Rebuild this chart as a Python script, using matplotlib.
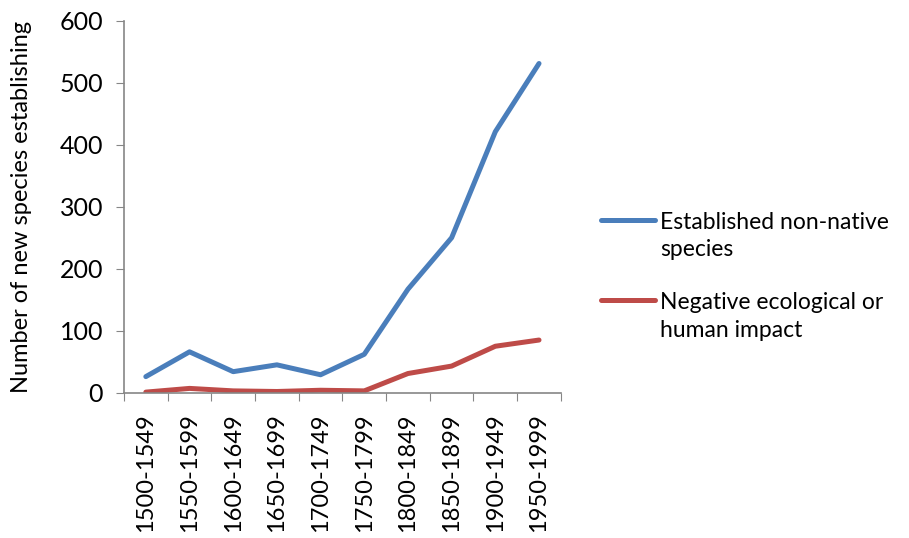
import matplotlib
matplotlib.use("Agg")
import matplotlib.pyplot as plt
from matplotlib.lines import Line2D

categories = ["1500-1549", "1550-1599", "1600-1649", "1650-1699", "1700-1749",
              "1750-1799", "1800-1849", "1850-1899", "1900-1949", "1950-1999"]
established = [26, 66, 34, 45, 29, 62, 167, 250, 421, 531]
negative = [1, 7, 3, 2, 4, 3, 31, 43, 75, 85]
series_labels = ["Established non-native\nspecies", "Negative ecological or\nhuman impact"]
series_colors = ["#4A7EBB", "#BE4B48"]
yticks = [0, 100, 200, 300, 400, 500, 600]

plt.rcParams['font.family'] = ['Lato', 'DejaVu Sans']

W, H = 909, 538
fig = plt.figure(figsize=(W / 100, H / 100), dpi=100)
ax = fig.add_axes([0.1364, 0.27, 0.4806, 0.6915])

x = list(range(len(categories)))
for vals, col, lab in zip([established, negative], series_colors, series_labels):
    ax.plot(x, vals, color=col, lw=3.6, solid_capstyle="round",
            solid_joinstyle="round", label=lab)

ax.set_xlim(-0.5, len(categories) - 0.5)
ax.set_ylim(0, 600)
ax.set_yticks(yticks)
ax.set_yticklabels([str(v) for v in yticks], fontsize=18)

ax.set_xticks([i - 0.5 for i in range(len(categories) + 1)])
ax.set_xticklabels([])
ax.set_xticks(x, minor=True)
ax.set_xticklabels(categories, minor=True, rotation=90, fontsize=17)
ax.tick_params(axis='x', which='minor', length=0, pad=15)
ax.tick_params(axis='x', which='major', length=6, color="#868686", direction='out')
ax.tick_params(axis='y', length=6, color="#868686", direction='out', pad=9)

for s in ["top", "right"]:
    ax.spines[s].set_visible(False)
for s in ["left", "bottom"]:
    ax.spines[s].set_color("#868686")
    ax.spines[s].set_linewidth(1.2)

ax.set_ylabel("Number of new species establishing", fontsize=17)
ax.yaxis.set_label_coords(-0.21, 0.5)

# Legend (Excel style: handle aligned with first text line)
handle_y = [219.5, 300]
block_y = [236, 316.5]
for col, lab, hy, by in zip(series_colors, series_labels, handle_y, block_y):
    fig.add_artist(Line2D([601 / W, 655 / W], [1 - hy / H, 1 - hy / H],
                          color=col, lw=3.6, solid_capstyle="round",
                          transform=fig.transFigure))
    fig.text(660 / W, 1 - by / H, lab, fontsize=16.5, va="center", ha="left",
             linespacing=1.4)

fig.savefig("out.png", dpi=100)
